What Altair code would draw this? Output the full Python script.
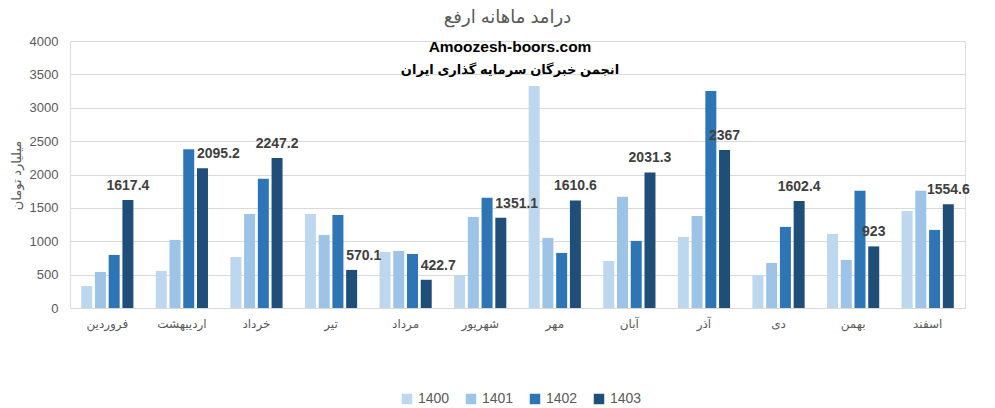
import altair as alt
import pandas as pd

months = ["فروردین", "اردیبهشت", "خرداد", "تیر", "مرداد", "شهریور",
          "مهر", "آبان", "آذر", "دی", "بهمن", "اسفند"]
years = ["1400", "1401", "1402", "1403"]
v1400 = [330, 555, 765, 1410, 840, 495, 3325, 705, 1065, 495, 1110, 1455]
v1401 = [540, 1020, 1410, 1095, 855, 1365, 1050, 1665, 1380, 675, 720, 1755]
v1402 = [795, 2380, 1935, 1395, 810, 1650, 825, 1005, 3250, 1215, 1755, 1170]
v1403 = [1617.4, 2095.2, 2247.2, 570.1, 422.7, 1351.1, 1610.6, 2031.3, 2367, 1602.4, 923, 1554.6]
colors = ["#BDD7EE", "#9DC3E6", "#2E75B6", "#1F4E79"]
y_ticks = [0, 500, 1000, 1500, 2000, 2500, 3000, 3500, 4000]
title_text = "درآمد ماهانه ارفع"
y_title = "میلیارد تومان"
watermark = ["Amoozesh-boors.com", "انجمن خبرگان سرمایه گذاری ایران"]
# months whose value label is pushed right (as Excel did to avoid overlap)
shifted_labels = ["اردیبهشت", "تیر", "مرداد", "شهریور"]

rows = []
for y, vals in zip(years, [v1400, v1401, v1402, v1403]):
    for m, v in zip(months, vals):
        rows.append({"month": m, "year": y, "value": v,
                     "shift": m in shifted_labels})
df = pd.DataFrame(rows)

FONT = "Liberation Sans, DejaVu Sans"

x_enc = alt.X("month:N", sort=months, title=None,
              scale=alt.Scale(paddingInner=0.3, paddingOuter=0.15),
              axis=alt.Axis(labelAngle=0, labelFontSize=12, labelColor="#595959",
                            labelPadding=10, ticks=False, domainColor="#D9D9D9",
                            labelFont=FONT))
y_enc = alt.Y("value:Q", title=y_title,
              scale=alt.Scale(domain=[0, 4000], nice=False),
              axis=alt.Axis(values=y_ticks, format="d", labelFontSize=13,
                            labelColor="#595959", labelOverlap=False,
                            labelPadding=12, ticks=False, domain=False,
                            gridColor="#D9D9D9", titleFontSize=13, titleColor="#595959",
                            titleFontWeight="normal", titleX=-54, titleY=134,
                            titleAlign="center", titleBaseline="middle",
                            titleFont=FONT, labelFont=FONT))
xo = alt.XOffset("year:N", sort=years, scale=alt.Scale(paddingInner=0.2))

bars = alt.Chart(df).mark_bar().encode(
    x=x_enc, y=y_enc, xOffset=xo,
    color=alt.Color("year:N", sort=years,
                    scale=alt.Scale(domain=years, range=colors),
                    legend=alt.Legend(title=None, orient="none", direction="horizontal",
                                      legendX=330, legendY=351, symbolType="square",
                                      symbolSize=110, labelFontSize=14,
                                      labelColor="#595959", columnPadding=14,
                                      symbolStrokeWidth=0, labelFont=FONT)),
)

label_style = dict(baseline="bottom", dy=-7, fontSize=14, fontWeight="bold",
                   color="#404040", font=FONT)
base_lab = alt.Chart(df).transform_filter(alt.datum.year == "1403")
labels_c = base_lab.transform_filter("!datum.shift").mark_text(**label_style).encode(
    x=x_enc, y=y_enc, xOffset=xo, text=alt.Text("value:Q"))
labels_l = base_lab.transform_filter("datum.shift").mark_text(
    align="left", dx=-5.5, **label_style).encode(
    x=x_enc, y=y_enc, xOffset=xo, text=alt.Text("value:Q"))

wm1 = alt.Chart(pd.DataFrame({"t": [watermark[0]]})).mark_text(
    fontSize=15.5, fontWeight="bold", color="#000000", font=FONT, baseline="middle"
).encode(text="t:N", x=alt.value(440), y=alt.value(6))
wm2 = alt.Chart(pd.DataFrame({"t": [watermark[1]]})).mark_text(
    fontSize=13, fontWeight="bold", color="#000000", font=FONT, baseline="middle"
).encode(text="t:N", x=alt.value(440), y=alt.value(29))

chart = alt.layer(bars, labels_c, labels_l, wm1, wm2).properties(
    width=895, height=267,
    autosize=alt.AutoSizeParams(type="none"),
    padding={"left": 62, "top": 33, "right": 22, "bottom": 100},
    title=alt.TitleParams(title_text, fontSize=18, color="#595959", fontWeight="normal",
                          anchor="middle", offset=8, dx=-10, font=FONT, frame="group"),
).configure_view(stroke=None).configure(background="white")

chart.save("out.html", embed_options={"renderer": "svg", "actions": False})
